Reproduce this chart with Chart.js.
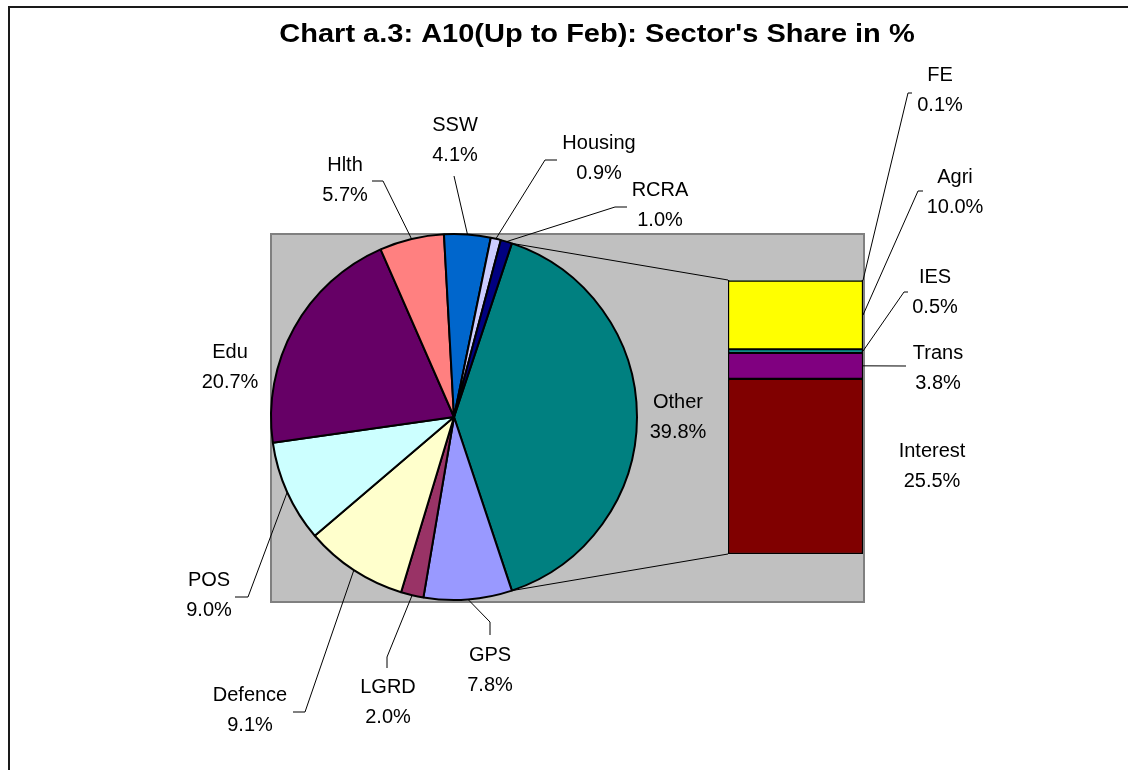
<!DOCTYPE html>
<html>
<head>
<meta charset="utf-8">
<script src="https://cdn.jsdelivr.net/npm/chart.js@4.4.0/dist/chart.umd.min.js"></script>
<style>
  html, body { margin: 0; padding: 0; background: #fff; }
  #wrap { position: relative; width: 1128px; height: 770px; }
  #wrap canvas { position: absolute; left: 0; top: 0; }
</style>
</head>
<body>
<div id="wrap">
  <canvas id="pieChart" width="1128" height="770"></canvas>
  <canvas id="barChart" width="1128" height="770"></canvas>
</div>
<script>
const titleText = "Chart a.3: A10(Up to Feb): Sector's Share in %";

// pie: clockwise from the "Other" slice
const pieLabels = ['Other', 'GPS', 'LGRD', 'Defence', 'POS', 'Edu', 'Hlth', 'SSW', 'Housing', 'RCRA'];
const pieValues = [39.8, 7.8, 2.0, 9.1, 9.0, 20.7, 5.7, 4.1, 0.9, 1.0];
const pieColors = ['#008080', '#9999FF', '#993366', '#FFFFCC', '#CCFFFF', '#660066', '#FF8080', '#0066CC', '#CCCCFF', '#000080'];

// bar: bottom to top, breakdown of "Other"
const barLabels = ['Interest', 'Trans', 'IES', 'Agri', 'FE'];
const barValues = [25.5, 3.8, 0.5, 10.0, 0.1];
const barColors = ['#800000', '#800080', '#00E0E0', '#FFFF00', '#CCFFCC'];

// label placement: centre of first text line, then leader bend points
const pieLabelPos = [[678, 402], [490, 655], [388, 687], [250, 695], [209, 580], [230, 352], [345, 165], [455, 125], [599, 143], [660, 190]];
const pieLeaders = [
  null,
  [[490, 622], [490, 635]],
  [[387, 657], [387, 668]],
  [[305, 712], [293, 712]],
  [[248, 597], [235, 597]],
  null,
  [[383, 181], [372, 181]],
  [[454, 176]],
  [[545, 160], [557, 160]],
  [[615, 207], [627, 207]]
];
const barLabelPos = [[932, 451], [938, 353], [935, 277], [955, 177], [940, 75]];
const barLeaders = [
  null,
  [[906, 366]],
  [[904, 292], [908, 292]],
  [[918, 191], [923, 191]],
  [[908, 93], [912, 93]]
];

const labelFont = '20px "Liberation Sans", Arial, sans-serif';
const lineGap = 30;

function drawLabel(ctx, name, value, pos) {
  ctx.fillStyle = '#000';
  ctx.font = labelFont;
  ctx.textAlign = 'center';
  ctx.textBaseline = 'middle';
  ctx.fillText(name, pos[0], pos[1]);
  ctx.fillText(value.toFixed(1) + '%', pos[0], pos[1] + lineGap);
}

function drawLeader(ctx, start, points) {
  if (!points) return;
  ctx.beginPath();
  ctx.moveTo(start[0], start[1]);
  points.forEach(p => ctx.lineTo(p[0], p[1]));
  ctx.strokeStyle = '#000';
  ctx.lineWidth = 1;
  ctx.stroke();
}

const pieTotal = pieValues.reduce((a, b) => a + b, 0);
const barTotal = barValues.reduce((a, b) => a + b, 0);

const pieBackground = {
  id: 'pieBackground',
  beforeDraw(chart) {
    const ctx = chart.ctx;
    ctx.save();
    ctx.fillStyle = '#fff';
    ctx.fillRect(0, 0, chart.width, chart.height);
    // outer frame
    ctx.strokeStyle = '#1a1a1a';
    ctx.lineWidth = 2;
    ctx.strokeRect(9, 7, 1300, 1000);
    // title
    ctx.font = 'bold 25px "Liberation Sans", Arial, sans-serif';
    ctx.fillStyle = '#000';
    ctx.textAlign = 'center';
    ctx.textBaseline = 'alphabetic';
    ctx.translate(597, 42);
    ctx.scale(1.16, 1);
    ctx.fillText(titleText, 0, 0);
    ctx.restore();
    // grey plot area
    ctx.save();
    ctx.fillStyle = '#C0C0C0';
    ctx.fillRect(271, 234, 593, 368);
    ctx.strokeStyle = '#808080';
    ctx.lineWidth = 2;
    ctx.strokeRect(271, 234, 593, 368);
    ctx.restore();
  },
  afterDraw(chart) {
    const ctx = chart.ctx;
    const arcs = chart.getDatasetMeta(0).data;
    ctx.save();
    arcs.forEach((arc, i) => {
      const mid = (arc.startAngle + arc.endAngle) / 2;
      const start = [arc.x + arc.outerRadius * Math.cos(mid), arc.y + arc.outerRadius * Math.sin(mid)];
      drawLeader(ctx, start, pieLeaders[i]);
      drawLabel(ctx, pieLabels[i], pieValues[i], pieLabelPos[i]);
    });
    ctx.restore();
  }
};

const pieChart = new Chart(document.getElementById('pieChart'), {
  type: 'pie',
  data: {
    labels: pieLabels,
    datasets: [{
      data: pieValues,
      backgroundColor: pieColors,
      borderColor: '#000',
      borderWidth: 2,
      hoverOffset: 0
    }]
  },
  options: {
    responsive: false,
    animation: false,
    events: [],
    rotation: 90 - pieValues[0] / pieTotal * 180,
    layout: { padding: { left: 270, top: 233, right: 1128 - 638, bottom: 770 - 601 } },
    plugins: {
      legend: { display: false },
      tooltip: { enabled: false }
    }
  },
  plugins: [pieBackground]
});

const barExtras = {
  id: 'barExtras',
  beforeDatasetsDraw(chart) {
    // connector lines from the "Other" slice to the bar
    const ctx = chart.ctx;
    const arc = pieChart.getDatasetMeta(0).data[0];
    const bottom = chart.getDatasetMeta(0).data[0];
    const top = chart.getDatasetMeta(barLabels.length - 1).data[0];
    const left = bottom.x - bottom.width / 2;
    ctx.save();
    ctx.strokeStyle = '#000';
    ctx.lineWidth = 1;
    ctx.beginPath();
    ctx.moveTo(arc.x + arc.outerRadius * Math.cos(arc.startAngle), arc.y + arc.outerRadius * Math.sin(arc.startAngle));
    ctx.lineTo(left, top.y);
    ctx.moveTo(arc.x + arc.outerRadius * Math.cos(arc.endAngle), arc.y + arc.outerRadius * Math.sin(arc.endAngle));
    ctx.lineTo(left, bottom.base);
    ctx.stroke();
    ctx.restore();
  },
  afterDraw(chart) {
    const ctx = chart.ctx;
    ctx.save();
    barLabels.forEach((name, i) => {
      const el = chart.getDatasetMeta(i).data[0];
      const start = [el.x + el.width / 2, (el.y + el.base) / 2];
      drawLeader(ctx, start, barLeaders[i]);
      drawLabel(ctx, name, barValues[i], barLabelPos[i]);
    });
    ctx.restore();
  }
};

new Chart(document.getElementById('barChart'), {
  type: 'bar',
  data: {
    labels: ['Other'],
    datasets: barLabels.map((name, i) => ({
      label: name,
      data: [barValues[i]],
      backgroundColor: barColors[i],
      borderColor: '#000',
      borderWidth: 1.5,
      borderSkipped: false,
      barPercentage: 1,
      categoryPercentage: 1
    }))
  },
  options: {
    responsive: false,
    animation: false,
    events: [],
    layout: { padding: { left: 728, right: 1128 - 863, top: 280, bottom: 770 - 554 } },
    scales: {
      x: { stacked: true, display: false },
      y: { stacked: true, display: false, min: 0, max: barTotal }
    },
    plugins: {
      legend: { display: false },
      tooltip: { enabled: false }
    }
  },
  plugins: [barExtras]
});
</script>
</body>
</html>
